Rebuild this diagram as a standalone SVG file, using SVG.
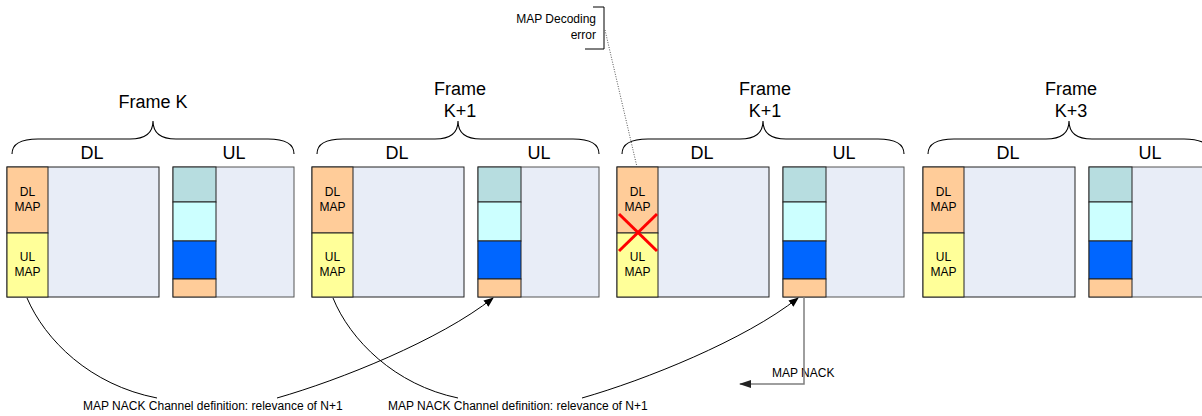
<svg xmlns="http://www.w3.org/2000/svg" width="1202" height="416" viewBox="0 0 1202 416">
<style>
  text { font-family: "Liberation Sans", Arial, sans-serif; fill: #000; }
  .title { font-size: 18px; text-anchor: middle; }
  .hdr { font-size: 18px; text-anchor: middle; }
  .lbl { font-size: 12px; text-anchor: middle; }
  .note { font-size: 12px; }
  .brace { fill: none; stroke: #000; stroke-width: 1.1; }
  .dlbox { fill: #e8edf7; stroke: #222; stroke-width: 1; }
  .ulbox { fill: #e8edf7; stroke: #555; stroke-width: 1; }
  .dlmap { fill: #ffcc99; stroke: #222; stroke-width: 1; }
  .ulmap { fill: #ffff99; stroke: #222; stroke-width: 1; }
  .s1 { fill: #b7dde0; stroke: #222; stroke-width: 1; }
  .s2 { fill: #ccffff; stroke: #222; stroke-width: 1; }
  .s3 { fill: #0066ff; stroke: #222; stroke-width: 1; }
  .s4 { fill: #ffcc99; stroke: #222; stroke-width: 1; }
  .curve { fill: none; stroke: #000; stroke-width: 1; }
  .gray { fill: none; stroke: #7f7f7f; stroke-width: 1.5; }
</style>
<defs>
  <marker id="arr" markerWidth="10" markerHeight="8" refX="9" refY="4" orient="auto" markerUnits="userSpaceOnUse">
    <path d="M0,0 L10,4 L0,8 Z" fill="#000"/>
  </marker>
  <marker id="arrg" markerWidth="12" markerHeight="8" refX="11" refY="4" orient="auto" markerUnits="userSpaceOnUse">
    <path d="M0,0 L12,4 L0,8 Z" fill="#222"/>
  </marker>
</defs>

<!-- Frame K -->
<g id="frame-k">
  <path class="brace" d="M12,154 C12,144 20,139 38,139 L130,139 C145,139 153,133 153,121 C153,133 161,139 176,139 L268,139 C286,139 294,144 294,154"/>
  <text class="title" x="153" y="108">Frame K</text>
  <text class="hdr" x="92" y="159">DL</text>
  <text class="hdr" x="234" y="159">UL</text>
  <rect class="dlbox" x="7" y="167" width="152" height="130"/>
  <rect class="dlmap" x="7" y="167" width="41" height="66"/>
  <rect class="ulmap" x="7" y="233" width="41" height="64"/>
  <text class="lbl" x="27.5" y="196">DL</text>
  <text class="lbl" x="27.5" y="211">MAP</text>
  <text class="lbl" x="27.5" y="261">UL</text>
  <text class="lbl" x="27.5" y="276">MAP</text>
  <rect class="ulbox" x="173" y="167" width="121" height="130"/>
  <rect class="s1" x="173" y="167" width="43" height="35"/>
  <rect class="s2" x="173" y="202" width="43" height="39"/>
  <rect class="s3" x="173" y="241" width="43" height="38"/>
  <rect class="s4" x="173" y="279" width="43" height="18"/>
</g>

<!-- Frame K+1 -->
<g id="frame-k1" transform="translate(305,0)">
  <path class="brace" d="M12,154 C12,144 20,139 38,139 L130,139 C145,139 153,133 153,121 C153,133 161,139 176,139 L268,139 C286,139 294,144 294,154"/>
  <text class="title" x="155" y="95">Frame</text>
  <text class="title" x="155" y="117">K+1</text>
  <text class="hdr" x="92" y="159">DL</text>
  <text class="hdr" x="234" y="159">UL</text>
  <rect class="dlbox" x="7" y="167" width="152" height="130"/>
  <rect class="dlmap" x="7" y="167" width="41" height="66"/>
  <rect class="ulmap" x="7" y="233" width="41" height="64"/>
  <text class="lbl" x="27.5" y="196">DL</text>
  <text class="lbl" x="27.5" y="211">MAP</text>
  <text class="lbl" x="27.5" y="261">UL</text>
  <text class="lbl" x="27.5" y="276">MAP</text>
  <rect class="ulbox" x="173" y="167" width="121" height="130"/>
  <rect class="s1" x="173" y="167" width="43" height="35"/>
  <rect class="s2" x="173" y="202" width="43" height="39"/>
  <rect class="s3" x="173" y="241" width="43" height="38"/>
  <rect class="s4" x="173" y="279" width="43" height="18"/>
</g>

<!-- Frame K+1 (error) -->
<g id="frame-k1-error" transform="translate(610,0)">
  <path class="brace" d="M12,154 C12,144 20,139 38,139 L130,139 C145,139 153,133 153,121 C153,133 161,139 176,139 L268,139 C286,139 294,144 294,154"/>
  <text class="title" x="155" y="95">Frame</text>
  <text class="title" x="155" y="117">K+1</text>
  <text class="hdr" x="92" y="159">DL</text>
  <text class="hdr" x="234" y="159">UL</text>
  <rect class="dlbox" x="7" y="167" width="152" height="130"/>
  <rect class="dlmap" x="7" y="167" width="41" height="66"/>
  <rect class="ulmap" x="7" y="233" width="41" height="64"/>
  <text class="lbl" x="27.5" y="196">DL</text>
  <text class="lbl" x="27.5" y="211">MAP</text>
  <text class="lbl" x="27.5" y="261">UL</text>
  <text class="lbl" x="27.5" y="276">MAP</text>
  <rect class="ulbox" x="173" y="167" width="121" height="130"/>
  <rect class="s1" x="173" y="167" width="43" height="35"/>
  <rect class="s2" x="173" y="202" width="43" height="39"/>
  <rect class="s3" x="173" y="241" width="43" height="38"/>
  <rect class="s4" x="173" y="279" width="43" height="18"/>
  <g id="error-cross">
    <line x1="9" y1="214" x2="47" y2="251" stroke="#ff0000" stroke-width="3"/>
    <line x1="9" y1="251" x2="47" y2="214" stroke="#ff0000" stroke-width="3"/>
  </g>
</g>

<!-- Frame K+3 -->
<g id="frame-k3" transform="translate(916,0)">
  <path class="brace" d="M12,154 C12,144 20,139 38,139 L130,139 C145,139 153,133 153,121 C153,133 161,139 176,139 L268,139 C286,139 294,144 294,154"/>
  <text class="title" x="155" y="95">Frame</text>
  <text class="title" x="155" y="117">K+3</text>
  <text class="hdr" x="92" y="159">DL</text>
  <text class="hdr" x="234" y="159">UL</text>
  <rect class="dlbox" x="7" y="167" width="152" height="130"/>
  <rect class="dlmap" x="7" y="167" width="41" height="66"/>
  <rect class="ulmap" x="7" y="233" width="41" height="64"/>
  <text class="lbl" x="27.5" y="196">DL</text>
  <text class="lbl" x="27.5" y="211">MAP</text>
  <text class="lbl" x="27.5" y="261">UL</text>
  <text class="lbl" x="27.5" y="276">MAP</text>
  <rect class="ulbox" x="173" y="167" width="121" height="130"/>
  <rect class="s1" x="173" y="167" width="43" height="35"/>
  <rect class="s2" x="173" y="202" width="43" height="39"/>
  <rect class="s3" x="173" y="241" width="43" height="38"/>
  <rect class="s4" x="173" y="279" width="43" height="18"/>
</g>

<!-- Callout -->
<g id="callout-decoding-error">
  <path d="M593,7 L604,7 L604,49 L585,49" fill="none" stroke="#000" stroke-width="1"/>
  <text class="note" x="596" y="23" text-anchor="end">MAP Decoding</text>
  <text class="note" x="596" y="39" text-anchor="end">error</text>
</g>

<!-- Labels -->
<g id="label-nack-def-1">
  <text class="note" x="83" y="410">MAP NACK Channel definition: relevance of N+1</text>
</g>
<g id="label-nack-def-2">
  <text class="note" x="388" y="410">MAP NACK Channel definition: relevance of N+1</text>
</g>
<g id="label-map-nack">
  <text class="note" x="772" y="377">MAP NACK</text>
</g>

<!-- Connectors -->
<g id="connectors">
  <path class="curve" d="M27,298 C45,340 90,385 157,398"/>
  <path class="curve" d="M277,398 C340,380 440,340 493,298" marker-end="url(#arr)"/>
  <path class="curve" d="M333,298 C350,340 395,385 458,398"/>
  <path class="curve" d="M582,398 C645,380 745,340 798,298" marker-end="url(#arr)"/>
  <path class="gray" d="M804,297 L804,384 L740,384" marker-end="url(#arrg)"/>
  <line x1="605" y1="30" x2="637" y2="167" stroke="#555" stroke-width="1" stroke-dasharray="1,1.5"/>
</g>
</svg>
